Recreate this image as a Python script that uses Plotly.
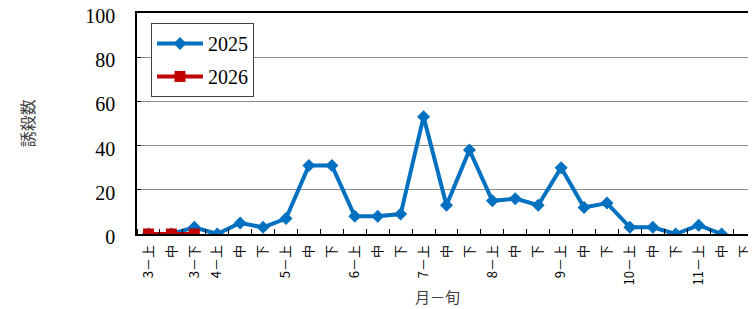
import plotly.graph_objects as go

tick_labels = ["3－上", "中", "3－下", "4－上", "中", "下", "5－上", "中", "下",
               "6－上", "中", "下", "7－上", "中", "下", "8－上", "中", "下",
               "9－上", "中", "下", "10－上", "中", "下", "11－上", "中", "下"]
values_2025 = [0, 0, 3, 0, 5, 3, 7, 31, 31, 8, 8, 9, 53, 13, 38, 15, 16, 13,
               30, 12, 14, 3, 3, 0, 4, 0]
values_2026 = [0, 0, 0]
y_ticks = [0, 20, 40, 60, 80, 100]

serif = "Liberation Serif, DejaVu Serif, serif"
cjk = "Noto Sans CJK JP"

fig = go.Figure()
fig.add_trace(go.Scatter(
    x=list(range(len(values_2025))), y=values_2025, name="2025",
    mode="lines+markers", legendgroup="a",
    line=dict(color="#0070C0", width=4),
    marker=dict(symbol="diamond", size=10, color="#0070C0"),
))
fig.add_trace(go.Scatter(
    x=list(range(len(values_2026))), y=values_2026, name="2026",
    mode="lines+markers", legendgroup="b",
    line=dict(color="#C00000", width=4),
    marker=dict(symbol="square", size=11, color="#C00000"),
))

n = len(tick_labels)
fig.update_layout(
    width=748, height=301,
    margin=dict(l=129, r=0, t=5, b=75),
    paper_bgcolor="white", plot_bgcolor="white",
    showlegend=True,
    legend=dict(
        x=0.0226, y=0.955, xanchor="left", yanchor="top",
        bordercolor="#404040", borderwidth=1, bgcolor="white",
        font=dict(family=serif, size=20, color="black"),
        tracegroupgap=4, itemwidth=46,
    ),
    xaxis=dict(
        range=[-0.5, n - 0.5], automargin=False,
        tickmode="array", tickvals=list(range(n)), ticktext=tick_labels,
        tickangle=-90, ticks="", ticklabelstandoff=4,
        tickfont=dict(family=cjk, size=13, color="black"),
        showgrid=False, zeroline=False,
        showline=True, linecolor="black", linewidth=1.5, mirror=True,
        minor=dict(tickmode="array", tickvals=[k - 0.5 for k in range(n + 1)],
                   ticks="inside", ticklen=5, tickcolor="black", tickwidth=1,
                   showgrid=False),
    ),
    yaxis=dict(
        range=[0, 100], tickmode="array", tickvals=y_ticks, automargin=False,
        tickfont=dict(family=serif, size=20, color="black"),
        ticks="inside", ticklen=4, tickcolor="black",
        ticklabelstandoff=16, ticklabeloverflow="allow", ticklabelshift=3,
        showgrid=True, gridcolor="#8c8c8c", gridwidth=1,
        zeroline=False,
        showline=True, linecolor="black", linewidth=1.5, mirror=True,
    ),
    annotations=[
        dict(text="誘殺数", xref="paper", yref="paper", x=-0.178, y=0.5,
             xanchor="center", yanchor="middle", textangle=-90, showarrow=False,
             font=dict(family=cjk, size=16, color="#404040")),
        dict(text="月－旬", xref="paper", yref="paper", x=0.485, y=-0.285,
             xanchor="center", yanchor="middle", showarrow=False,
             font=dict(family=cjk, size=15, color="#404040")),
    ],
)

fig.write_html("out.html")
